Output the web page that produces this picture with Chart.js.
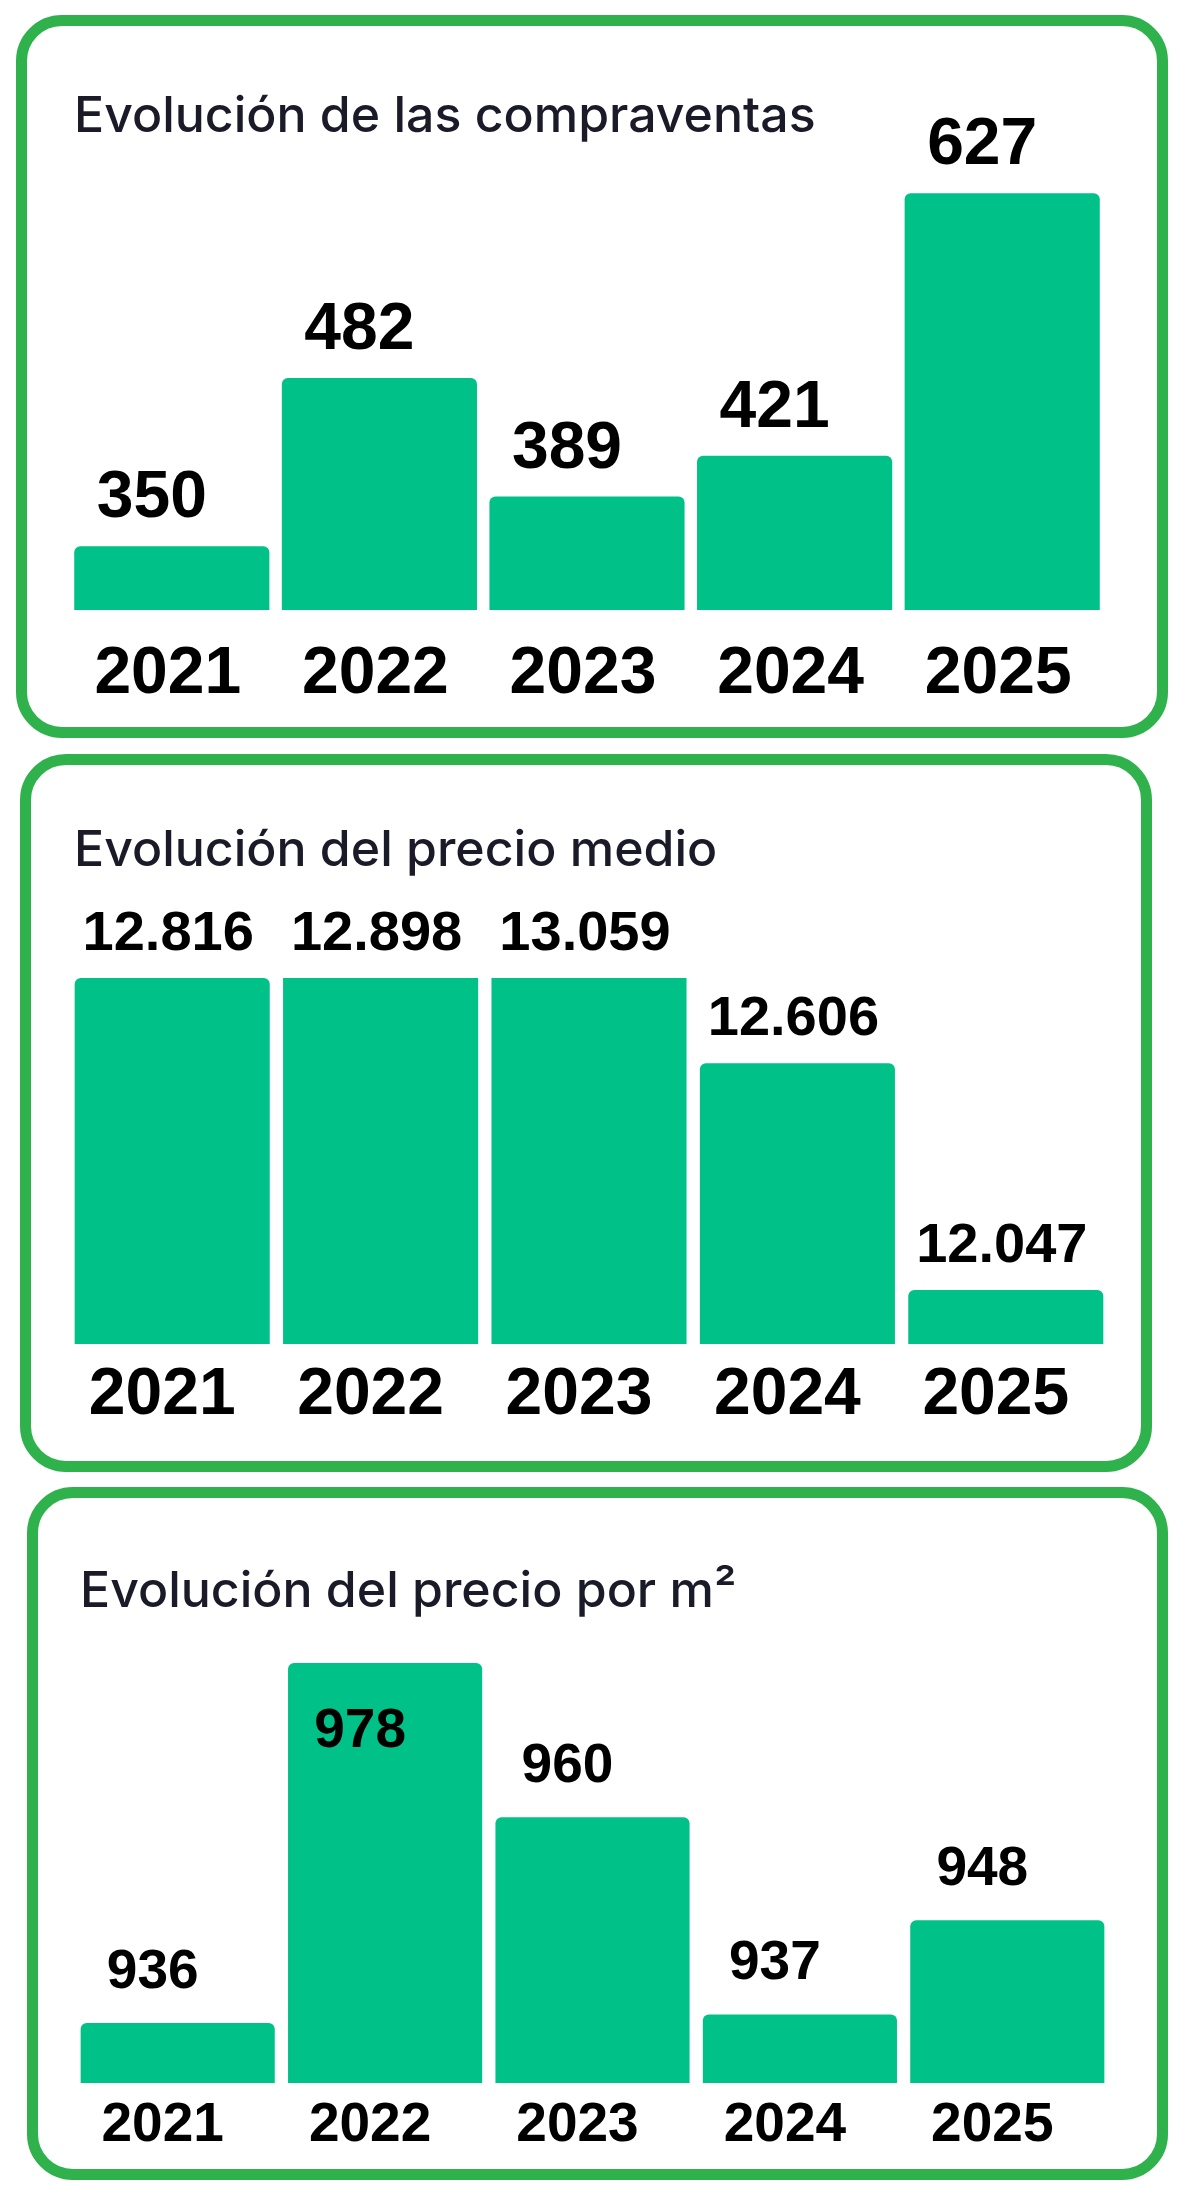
<!DOCTYPE html>
<html>
<head>
<meta charset="utf-8">
<script src="https://cdn.jsdelivr.net/npm/chart.js@4.4.1/dist/chart.umd.min.js"></script>
<style>
  html, body { margin: 0; padding: 0; background: #ffffff; }
  #page { position: relative; width: 1200px; height: 2193px; overflow: hidden; background: #fff; }
  .card { position: absolute; box-sizing: border-box; border: 11px solid #2fb24c; border-radius: 46px; background: #fff; }
  .title { position: absolute; font-family: Inter, "Noto Sans", sans-serif; font-size: 50px; line-height: 50px;
           color: #1a1a28; font-weight: 500; letter-spacing: 0px; white-space: nowrap; }
  .chartbox { position: absolute; left: 0; width: 1200px; }
</style>
</head>
<body>
<div id="page">
  <div class="card" style="left:16px; top:15px; width:1152px; height:723px;"></div>
  <div class="card" style="left:20px; top:754px; width:1132px; height:718px;"></div>
  <div class="card" style="left:27px; top:1487px; width:1141px; height:693px;"></div>

  <div class="title" id="t1" style="left:74px; top:89px;"></div>
  <div class="title" id="t2" style="left:74px; top:823px;"></div>
  <div class="title" id="t3" style="left:80px; top:1564px;"></div>

  <div class="chartbox" style="top:0px; height:740px;"><canvas id="c1"></canvas></div>
  <div class="chartbox" style="top:740px; height:740px;"><canvas id="c2"></canvas></div>
  <div class="chartbox" style="top:1480px; height:713px;"><canvas id="c3"></canvas></div>
</div>
<script>
// ---- data ----
const years = ['2021', '2022', '2023', '2024', '2025'];
const titleSales = 'Evolución de las compraventas';
const titleAvgPrice = 'Evolución del precio medio';
const titleSqmPrice = 'Evolución del precio por m²';
const salesValues = [350, 482, 389, 421, 627];
const avgPriceValues = [12816, 12898, 13059, 12606, 12047];
const sqmPriceValues = [936, 978, 960, 937, 948];

document.getElementById('t1').textContent = titleSales;
document.getElementById('t2').textContent = titleAvgPrice;
document.getElementById('t3').textContent = titleSqmPrice;

const BAR = '#00c187';
const NUM_FONT = '"Liberation Sans", Arial, Helvetica, sans-serif';

function fmtThousands(v) {
  return String(v).replace(/\B(?=(\d{3})+(?!\d))/g, '.');
}

const valueLabels = {
  id: 'valueLabels',
  afterDatasetsDraw(chart, args, opts) {
    const ctx = chart.ctx;
    const meta = chart.getDatasetMeta(0);
    const ds = chart.data.datasets[0];
    const area = chart.chartArea;
    ctx.save();
    ctx.font = 'bold ' + opts.size + 'px ' + NUM_FONT;
    ctx.fillStyle = '#000000';
    ctx.textAlign = 'center';
    ctx.textBaseline = 'alphabetic';
    meta.data.forEach((bar, i) => {
      const top = Math.max(bar.y, area.top);
      let y = top - opts.gap;
      if (opts.minBaseline !== null && opts.minBaseline !== undefined) {
        y = Math.max(y, area.top + opts.minBaseline);
      }
      const txt = opts.thousands ? fmtThousands(ds.data[i]) : String(ds.data[i]);
      ctx.fillText(txt, bar.x + opts.dx, y);
    });
    ctx.restore();
  }
};

function makeChart(id, values, cfg) {
  return new Chart(document.getElementById(id), {
    type: 'bar',
    data: {
      labels: years,
      datasets: [{
        data: values,
        backgroundColor: BAR,
        borderWidth: 0,
        borderRadius: 6,
        barPercentage: cfg.barPct,
        categoryPercentage: 1.0
      }]
    },
    plugins: [valueLabels],
    options: {
      responsive: true,
      maintainAspectRatio: false,
      animation: false,
      devicePixelRatio: 1,
      layout: { padding: cfg.padding },
      plugins: {
        legend: { display: false },
        tooltip: { enabled: false },
        title: { display: false },
        valueLabels: cfg.labels
      },
      scales: {
        x: {
          grid: { display: false, drawTicks: false },
          border: { display: false },
          ticks: {
            color: '#000000',
            font: { family: NUM_FONT, size: cfg.tickSize, weight: 'bold', lineHeight: 1 },
            padding: cfg.tickPad,
            labelOffset: cfg.tickOffset,
            maxRotation: 0,
            autoSkip: false
          }
        },
        y: {
          display: false,
          min: cfg.yMin,
          max: cfg.yMax
        }
      }
    }
  });
}

makeChart('c1', salesValues, {
  barPct: 0.94,
  padding: { left: 68, right: 94, top: 164, bottom: 0 },
  tickSize: 66, tickPad: 32, tickOffset: -4,
  yMin: 300, yMax: 650,
  labels: { size: 66, gap: 29, dx: -20, thousands: false, minBaseline: null }
});

makeChart('c2', avgPriceValues, {
  barPct: 0.936,
  padding: { left: 68, right: 90, top: 238, bottom: 32 },
  tickSize: 66, tickPad: 19, tickOffset: -10,
  yMin: 11914, yMax: 12816,
  labels: { size: 56, gap: 28, dx: -4, thousands: true, minBaseline: null }
});

makeChart('c3', sqmPriceValues, {
  barPct: 0.936,
  padding: { left: 74, right: 89, top: 183, bottom: 25 },
  tickSize: 55, tickPad: 15, tickOffset: -15,
  yMin: 929, yMax: 978,
  labels: { size: 55, gap: 35, dx: -25, thousands: false, minBaseline: 84 }
});
</script>
</body>
</html>
